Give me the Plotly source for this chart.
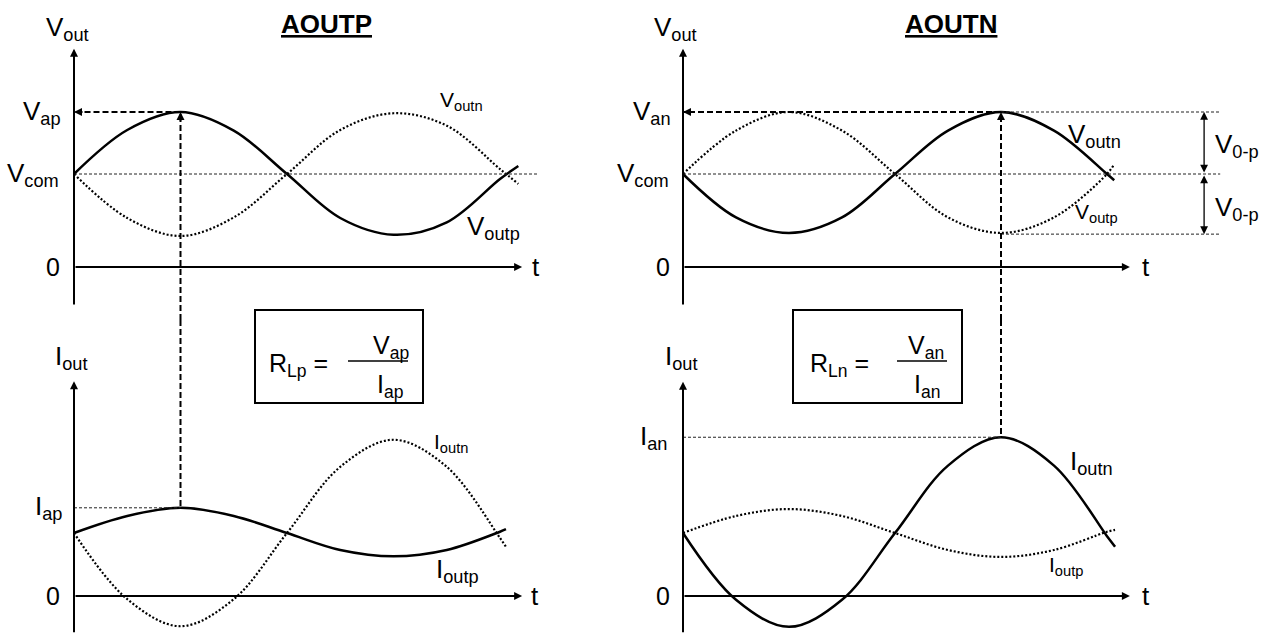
import plotly.graph_objects as go

W, H = 1270, 635
FONT = "Liberation Sans, Arial, sans-serif"

# ---------------- data ----------------
# time in periods; voltage / current in arbitrary units
t_tl = [0, 0.125, 0.25, 0.375, 0.5, 0.625, 0.75, 0.875, 1.0, 1.043]
voutp_tl = [1.5, 2.21, 2.5, 2.2, 1.5, 0.79, 0.52, 0.72, 1.42, 1.63]
voutn_tl = [1.5, 0.79, 0.5, 0.8, 1.5, 2.21, 2.48, 2.28, 1.58, 1.34]

t_tr = [0, 0.125, 0.25, 0.375, 0.5, 0.625, 0.75, 0.875, 1.0, 1.017]
voutn_tr = [1.5, 0.8, 0.55, 0.8, 1.5, 2.2, 2.5, 2.2, 1.5, 1.40]
voutp_tr = [1.5, 2.2, 2.5, 2.2, 1.5, 0.8, 0.55, 0.8, 1.5, 1.66]

t_bl = [0, 0.125, 0.25, 0.375, 0.5, 0.625, 0.75, 0.875, 1.0, 1.014]
ioutp_bl = [1.0, 1.27, 1.40, 1.27, 1.0, 0.73, 0.63, 0.73, 1.02, 1.06]
ioutn_bl = [1.0, -0.05, -0.48, -0.05, 1.0, 2.05, 2.48, 2.05, 0.92, 0.78]

t_br = [0, 0.125, 0.25, 0.375, 0.5, 0.625, 0.75, 0.875, 1.0, 1.019]
ioutn_br = [1.0, -0.06, -0.49, -0.06, 1.0, 2.07, 2.52, 2.07, 0.95, 0.78]
ioutp_br = [1.0, 1.27, 1.38, 1.27, 1.0, 0.73, 0.62, 0.73, 1.02, 1.05]

V_com = 1.5
V_ap = 2.5
V_an = 2.5
V_trough_n = 0.53
I_ap = 1.40
I_an = 2.52
t_peak_p = 0.25   # time of AOUTP peak
t_peak_n = 0.75   # time of AOUTN peak

# ---------------- layout geometry ----------------
def px(x):
    return x / W


def py(y):
    return 1 - y / H


split = 1 - 320 / H
xr_left = [-74 / 426, (635 - 74) / 426]
xr_right = [-48 / 424, (635 - 48) / 424]
yr_top = [(267 - 320) / 62, 267 / 62]
yr_bot = [(596 - 635) / 63, (596 - 320) / 63]

fig = go.Figure()

SOLID = dict(color="black", width=2.5, shape="spline", smoothing=1)
DOT = dict(color="#000000", width=2.2, dash="2px,2px", shape="spline", smoothing=1)


def add_curve(x, y, line, xa, ya):
    fig.add_trace(go.Scatter(x=x, y=y, mode="lines", line=line, xaxis=xa, yaxis=ya,
                             hoverinfo="skip", showlegend=False))


add_curve(t_tl, voutn_tl, DOT, "x", "y")
add_curve(t_tl, voutp_tl, SOLID, "x", "y")
add_curve(t_tr, voutp_tr, DOT, "x2", "y2")
add_curve(t_tr, voutn_tr, SOLID, "x2", "y2")
add_curve(t_bl, ioutn_bl, DOT, "x3", "y3")
add_curve(t_bl, ioutp_bl, SOLID, "x3", "y3")
add_curve(t_br, ioutp_br, DOT, "x4", "y4")
add_curve(t_br, ioutn_br, SOLID, "x4", "y4")

ax_common = dict(visible=False, fixedrange=True, showgrid=False, zeroline=False)
fig.update_layout(
    width=W, height=H,
    margin=dict(l=0, r=0, t=0, b=0),
    paper_bgcolor="white", plot_bgcolor="white",
    showlegend=False,
    font=dict(family=FONT, color="black"),
    xaxis=dict(domain=[0, 0.5], range=xr_left, anchor="y", **ax_common),
    yaxis=dict(domain=[split, 1], range=yr_top, anchor="x", **ax_common),
    xaxis2=dict(domain=[0.5, 1], range=xr_right, anchor="y2", **ax_common),
    yaxis2=dict(domain=[split, 1], range=yr_top, anchor="x2", **ax_common),
    xaxis3=dict(domain=[0, 0.5], range=xr_left, anchor="y3", **ax_common),
    yaxis3=dict(domain=[0, split], range=yr_bot, anchor="x3", **ax_common),
    xaxis4=dict(domain=[0.5, 1], range=xr_right, anchor="y4", **ax_common),
    yaxis4=dict(domain=[0, split], range=yr_bot, anchor="x4", **ax_common),
)

shapes = []
annots = []

THIN = dict(color="#222222", width=1, dash="3px,2px")
THICK = dict(color="black", width=2, dash="6px,3px")


def seg(xr, yr, x0, y0, x1, y1, line):
    shapes.append(dict(type="line", xref=xr, yref=yr, x0=x0, y0=y0, x1=x1, y1=y1,
                       line=line, layer="above"))


def arrow(xr, yr, x0, y0, x1, y1, width=2, size=0.8, both=False):
    a = dict(xref=xr, yref=yr, axref=xr, ayref=yr, x=x1, y=y1, ax=x0, ay=y0,
             text="", showarrow=True, arrowhead=2, arrowsize=size, arrowwidth=width,
             arrowcolor="black", standoff=0, startstandoff=0)
    if both:
        a.update(arrowside="end+start", startarrowhead=2, startarrowsize=size)
    annots.append(a)


def head(xr, yr, x, y, dx, dy):
    annots.append(dict(xref=xr, yref=yr, x=x, y=y, ax=dx, ay=dy, text="",
                       showarrow=True, arrowhead=2, arrowsize=0.8, arrowwidth=2,
                       arrowcolor="black", standoff=0))


def text(s, x, y, size, xanchor="center", xref="paper", yref="paper"):
    annots.append(dict(text=s, x=x, y=y, xref=xref, yref=yref, showarrow=False,
                       xanchor=xanchor, yanchor="middle",
                       font=dict(size=size, family=FONT, color="black")))


# ---- thin reference lines ----
seg("x", "y", 0, V_com, 1.087, V_com, THIN)
seg("x3", "y3", 0, I_ap, t_peak_p, I_ap, THIN)
seg("x2", "y2", 0, V_com, 1.267, V_com, THIN)
seg("x2", "y2", t_peak_n, V_an, 1.267, V_an, THIN)
seg("x2", "y2", t_peak_n, V_trough_n, 1.267, V_trough_n, THIN)
seg("x4", "y4", 0, I_an, t_peak_n, I_an, THIN)

# ---- axes with arrows ----
arrow("x", "y", 0, -0.63, 0, 3.52)
arrow("x", "y", 0, 0, 1.052, 0)
arrow("x2", "y2", 0, -0.63, 0, 3.52)
arrow("x2", "y2", 0, 0, 1.054, 0)
arrow("x3", "y3", 0, -0.6, 0, 3.41)
arrow("x3", "y3", 0, 0, 1.052, 0)
arrow("x4", "y4", 0, -0.6, 0, 3.40)
arrow("x4", "y4", 0, 0, 1.054, 0)

# ---- thick dashed arrows ----
seg("x", "y", t_peak_p, yr_top[0], t_peak_p, V_ap, THICK)
seg("x3", "y3", t_peak_p, yr_bot[1], t_peak_p, I_ap, THICK)
seg("x", "y", t_peak_p, V_ap, 0, V_ap, THICK)
head("x", "y", t_peak_p, V_ap, 0, 10)
head("x", "y", 0, V_ap, 10, 0)

seg("x2", "y2", t_peak_n, yr_top[0], t_peak_n, V_an, THICK)
seg("x4", "y4", t_peak_n, yr_bot[1], t_peak_n, I_an, THICK)
seg("x2", "y2", t_peak_n, V_an, 0, V_an, THICK)
head("x2", "y2", t_peak_n, V_an, 0, 10)
head("x2", "y2", 0, V_an, 10, 0)

# ---- V0-p double arrows ----
arrow("x2", "y2", 1.229, V_com, 1.229, V_an, width=1.3, size=1.2, both=True)
arrow("x2", "y2", 1.229, V_com, 1.229, V_trough_n, width=1.3, size=1.2, both=True)

# ---- formula boxes ----
for (x0, x1) in [(255, 423), (793, 962)]:
    shapes.append(dict(type="rect", xref="paper", yref="paper",
                       x0=px(x0), x1=px(x1), y0=py(403), y1=py(310),
                       line=dict(color="black", width=2), fillcolor="rgba(0,0,0,0)"))
shapes.append(dict(type="line", xref="paper", yref="paper", x0=px(348), x1=px(408),
                   y0=py(361), y1=py(361), line=dict(color="black", width=1.5)))
shapes.append(dict(type="line", xref="paper", yref="paper", x0=px(897), x1=px(947),
                   y0=py(361), y1=py(361), line=dict(color="black", width=1.5)))

text("R<sub>Lp</sub> =", px(298), py(365), 25)
text("V<sub>ap</sub>", px(391), py(347), 25)
text("I<sub>ap</sub>", px(390), py(386), 25)
text("R<sub>Ln</sub> =", px(839), py(365), 25)
text("V<sub>an</sub>", px(926), py(347), 25)
text("I<sub>an</sub>", px(927), py(386), 25)

# ---- titles ----
text("<b><u>AOUTP</u></b>", px(326), py(24), 26)
text("<b><u>AOUTN</u></b>", px(951), py(24), 26)

# ---- axis labels ----
text("V<sub>out</sub>", px(67), py(28), 26)
text("V<sub>out</sub>", px(675), py(28), 26)
text("I<sub>out</sub>", px(71), py(357), 26)
text("I<sub>out</sub>", px(681), py(357), 26)

text("V<sub>ap</sub>", px(63), V_ap, 26, xanchor="right", yref="y")
text("V<sub>com</sub>", px(61), V_com, 26, xanchor="right", yref="y")
text("0", px(62), 0, 25, xanchor="right", yref="y")
text("V<sub>an</sub>", px(673), V_an, 26, xanchor="right", yref="y2")
text("V<sub>com</sub>", px(671), V_com, 26, xanchor="right", yref="y2")
text("0", px(672), 0, 25, xanchor="right", yref="y2")
text("I<sub>ap</sub>", px(64), I_ap, 26, xanchor="right", yref="y3")
text("0", px(62), 0, 25, xanchor="right", yref="y3")
text("I<sub>an</sub>", px(669), I_an, 26, xanchor="right", yref="y4")
text("0", px(672), 0, 25, xanchor="right", yref="y4")

text("t", px(536), 0, 26, yref="y")
text("t", px(1146), 0, 26, yref="y2")
text("t", px(535), 0, 26, yref="y3")
text("t", px(1146), 0, 26, yref="y4")

# ---- curve labels ----
text("V<sub>outn</sub>", px(461), py(101), 21)
text("V<sub>outp</sub>", px(493), py(227), 26)
text("V<sub>outn</sub>", px(1094), py(135), 26)
text("V<sub>outp</sub>", px(1096), py(213), 21)
text("V<sub>0-p</sub>", px(1237), py(145), 26)
text("V<sub>0-p</sub>", px(1237), py(208), 26)
text("I<sub>outn</sub>", px(451), py(443), 21)
text("I<sub>outp</sub>", px(457), py(570), 26)
text("I<sub>outn</sub>", px(1091), py(462), 26)
text("I<sub>outp</sub>", px(1066), py(566), 21)

fig.update_layout(shapes=shapes, annotations=annots)
fig.write_html(
    "out.html",
    config={"displayModeBar": False, "staticPlot": True},
    post_script="document.body.style.margin='0px';document.body.style.overflow='hidden';",
)
